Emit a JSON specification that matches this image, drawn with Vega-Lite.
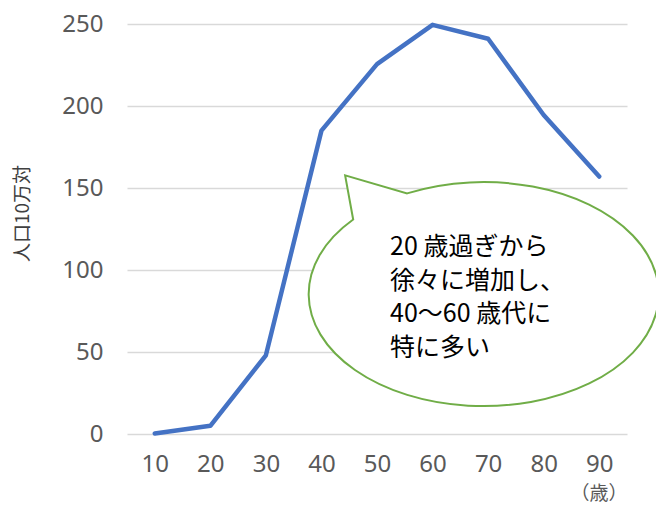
{
  "$schema": "https://vega.github.io/schema/vega-lite/v6.json",
  "autosize": "none",
  "width": 500,
  "height": 410,
  "padding": {"left": 127, "top": 24, "right": 29, "bottom": 72},
  "background": "white",
  "config": {
    "view": {"stroke": null},
    "font": "Noto Sans",
    "axis": {"labelFont": "Noto Sans", "titleFont": "Noto Sans CJK JP"}
  },
  "layer": [
    {
      "data": {"values": [
        {"age": "10", "value": 0.3},
        {"age": "20", "value": 5},
        {"age": "30", "value": 48},
        {"age": "40", "value": 185},
        {"age": "50", "value": 225.5},
        {"age": "60", "value": 249.5},
        {"age": "70", "value": 241},
        {"age": "80", "value": 194.5},
        {"age": "90", "value": 157}
      ]},
      "mark": {"type": "line", "color": "#4472C4", "strokeWidth": 4.5, "strokeCap": "round", "strokeJoin": "round"},
      "encoding": {
        "x": {
          "field": "age", "type": "ordinal", "sort": null,
          "scale": {"paddingInner": 0, "paddingOuter": 0},
          "axis": {
            "labelAngle": 0, "domain": false, "ticks": false, "grid": false,
            "labelFontSize": 24, "labelColor": "#595959", "labelPadding": 18,
            "title": "（歳）", "titleAnchor": "end", "titleFontSize": 19,
            "titleFontWeight": "normal", "titleColor": "#595959", "titlePadding": 8
          }
        },
        "y": {
          "field": "value", "type": "quantitative",
          "scale": {"domain": [0, 250], "nice": false},
          "axis": {
            "values": [0, 50, 100, 150, 200, 250],
            "domain": false, "ticks": false,
            "gridColor": "#D9D9D9", "gridWidth": 1.5,
            "labelFontSize": 24, "labelColor": "#595959", "labelPadding": 24,
            "title": "人口10万対", "titleFontSize": 19, "titleFontWeight": "normal",
            "titleColor": "#404040", "titlePadding": 29, "titleY": 189
          }
        }
      }
    },
    {
      "data": {"values": [{"age": "70", "value": 84.5}]},
      "mark": {
        "type": "point", "filled": true, "fill": "white", "fillOpacity": 1,
        "stroke": "#70AD47", "strokeWidth": 2, "strokeOpacity": 1, "opacity": 1,
        "size": 122500,
        "shape": "M -0.771 -0.434 L -0.817 -0.686 L -0.463 -0.583 A 1 0.64 0 1 1 -0.771 -0.434 Z"
      },
      "encoding": {
        "x": {"field": "age", "type": "ordinal"},
        "y": {"field": "value", "type": "quantitative"}
      }
    },
    {
      "data": {"values": [
        {"age": "70", "value": 114, "label": "20 歳過ぎから"},
        {"age": "70", "value": 93.5, "label": "徐々に増加し、"},
        {"age": "70", "value": 73, "label": "40～60 歳代に"},
        {"age": "70", "value": 52.5, "label": "特に多い"}
      ]},
      "mark": {"type": "text", "align": "left", "baseline": "middle", "dx": -98, "font": "Noto Sans CJK JP", "fontSize": 25, "fontWeight": "normal", "color": "#000000"},
      "encoding": {
        "x": {"field": "age", "type": "ordinal"},
        "y": {"field": "value", "type": "quantitative"},
        "text": {"field": "label"}
      }
    }
  ]
}
